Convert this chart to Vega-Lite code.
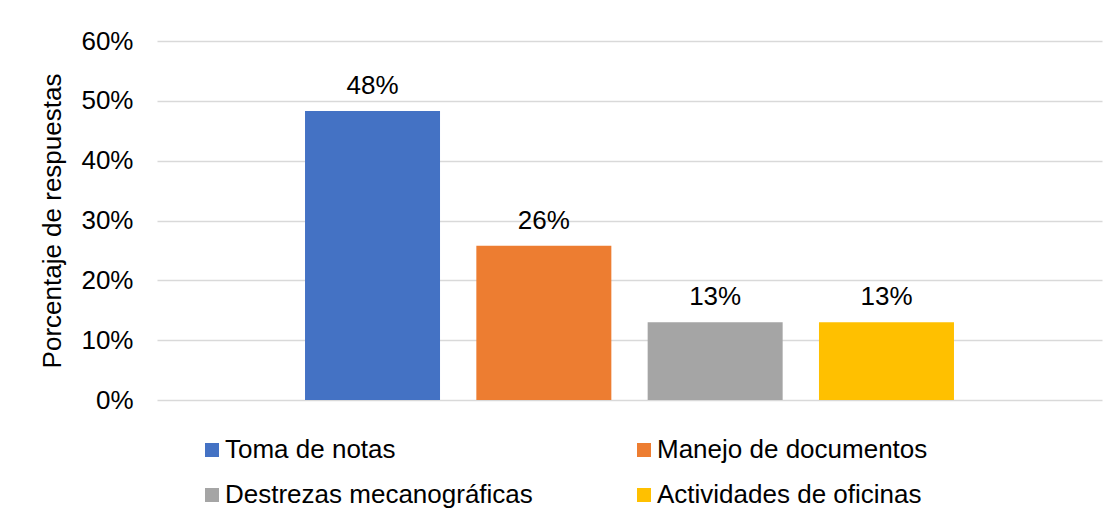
{
  "$schema": "https://vega.github.io/schema/vega-lite/v6.json",
  "autosize": {"type": "none"},
  "padding": {"left": 157, "top": 41, "right": 13, "bottom": 125},
  "width": 945,
  "height": 359,
  "background": "#ffffff",
  "config": {
    "view": {"stroke": null},
    "font": "Liberation Sans",
    "text": {"font": "Liberation Sans"}
  },
  "data": {
    "values": [
      {"serie": "Toma de notas", "valor": 0.483},
      {"serie": "Manejo de documentos", "valor": 0.258},
      {"serie": "Destrezas mecanográficas", "valor": 0.13},
      {"serie": "Actividades de oficinas", "valor": 0.13}
    ]
  },
  "encoding": {
    "x": {
      "field": "serie",
      "type": "nominal",
      "sort": null,
      "axis": null,
      "scale": {"paddingInner": 0.212, "paddingOuter": 0.864}
    },
    "y": {
      "field": "valor",
      "type": "quantitative",
      "scale": {"domain": [0, 0.6], "nice": false},
      "axis": {
        "title": "Porcentaje de respuestas",
        "titleFont": "Liberation Sans",
        "titleFontSize": 26,
        "titleFontWeight": "normal",
        "titleColor": "#000000",
        "titlePadding": 15,
        "values": [0, 0.1, 0.2, 0.3, 0.4, 0.5, 0.6],
        "format": ".0%",
        "labelFont": "Liberation Sans",
        "labelFontSize": 26,
        "labelColor": "#000000",
        "labelPadding": 24,
        "ticks": false,
        "domain": false,
        "grid": true,
        "gridColor": "#d9d9d9",
        "gridWidth": 1.5
      }
    }
  },
  "layer": [
    {
      "mark": {"type": "bar"},
      "encoding": {
        "color": {
          "field": "serie",
          "type": "nominal",
          "scale": {
            "domain": ["Toma de notas", "Destrezas mecanográficas", "Manejo de documentos", "Actividades de oficinas"],
            "range": ["#4472C4", "#A5A5A5", "#ED7D31", "#FFC000"]
          },
          "legend": {
            "title": null,
            "orient": "none",
            "legendX": 42,
            "legendY": 396,
            "columns": 2,
            "columnPadding": 98,
            "rowPadding": 19,
            "symbolType": "square",
            "symbolSize": 196,
            "symbolStrokeWidth": 0,
            "labelOffset": 0,
            "labelFont": "Liberation Sans",
            "labelFontSize": 26,
            "labelColor": "#000000",
            "labelLimit": 500
          }
        }
      }
    },
    {
      "mark": {"type": "text", "baseline": "alphabetic", "dy": -17, "fontSize": 26, "color": "#000000", "font": "Liberation Sans"},
      "encoding": {
        "text": {"field": "valor", "type": "quantitative", "format": ".0%"}
      }
    }
  ]
}
